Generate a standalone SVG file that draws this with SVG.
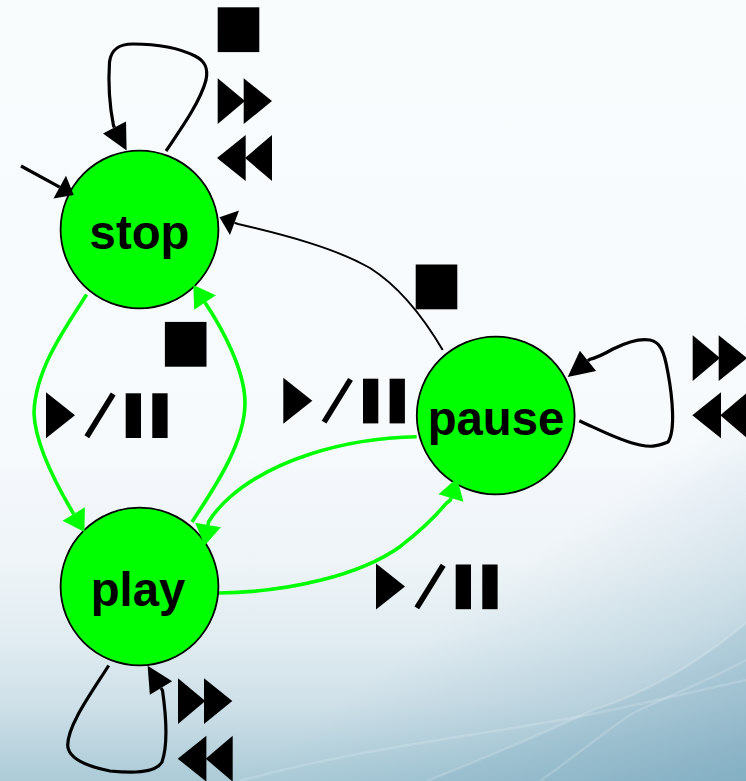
<svg xmlns="http://www.w3.org/2000/svg" width="746" height="781" viewBox="0 0 746 781">
<style>
.state{fill:#00ff00;stroke:#000;stroke-width:1.8}
.name{font-family:"Liberation Sans",Arial,sans-serif;font-weight:700;font-size:47.3px;fill:#000;text-anchor:middle}
.edge{fill:none;stroke:#000;stroke-width:3.2}
.thin{stroke-width:2}
.go{stroke:#00ff00;stroke-width:3.6}
</style>
<defs>
<linearGradient id="bg" x1="0" y1="0" x2="0" y2="1">
<stop offset="0" stop-color="#f8fcfd"/>
<stop offset="0.58" stop-color="#f6fafc"/>
<stop offset="0.62" stop-color="#f3f7fb"/>
<stop offset="0.72" stop-color="#eef4f7"/>
<stop offset="0.82" stop-color="#e0ecf1"/>
<stop offset="0.9" stop-color="#cfe0e8"/>
<stop offset="1" stop-color="#abcbd7"/>
</linearGradient>
<linearGradient id="bgRight" gradientUnits="userSpaceOnUse" x1="520" y1="566" x2="704" y2="812">
<stop offset="0" stop-color="#5f97b0" stop-opacity="0"/>
<stop offset="0.5" stop-color="#5f97b0" stop-opacity="0.2"/>
<stop offset="1" stop-color="#5f97b0" stop-opacity="0.52"/>
</linearGradient>
<marker id="headBig" markerUnits="userSpaceOnUse" markerWidth="30" markerHeight="30" refX="0" refY="13" orient="auto" overflow="visible"><polygon points="0,0 26,13 0,26" fill="#000"/></marker>
<marker id="headShort" markerUnits="userSpaceOnUse" markerWidth="30" markerHeight="30" refX="0" refY="13" orient="auto" overflow="visible"><polygon points="0,0 16,13 0,26" fill="#000"/></marker>
<marker id="headGreen" markerUnits="userSpaceOnUse" markerWidth="30" markerHeight="30" refX="0" refY="13" orient="auto" overflow="visible"><polygon points="0,0 21,13 0,26" fill="#00ff00"/></marker>
<g id="playPause">
<polygon points="0,0 0,46 29,23"/>
<line x1="67.2" y1="1.7" x2="40.8" y2="44.4" stroke="#000" stroke-width="5.6"/>
<rect x="79.7" y="1" width="15.3" height="44.7"/>
<rect x="106.3" y="1" width="15.3" height="44.7"/>
</g>
<g id="ffwd"><polygon points="0,0 27.3,22.8 0,45.7"/><polygon points="26,0 54.3,22.8 26,45.7"/></g>
<g id="rewind"><polygon points="0,23 28.7,0 28.7,46"/><polygon points="28,23 55,0 55,46"/></g>
<rect id="stopIcon" width="41.6" height="44.8"/>
</defs>
<g id="background">
<rect width="746" height="781" fill="url(#bg)"/>
<rect width="746" height="781" fill="url(#bgRight)"/>
<path d="M746 623 C690 670 640 695 593 710 C540 735 480 760 427 781 L746 781Z" fill="#7fabc0" fill-opacity="0.18"/>
<g fill="none" stroke="#fff" stroke-opacity="0.16" stroke-width="2.5">
<path d="M240 781 C350 750 480 735 577 717 C640 705 700 690 746 680"/>
<path d="M427 781 C480 760 540 735 593 710 C640 695 690 670 746 623"/>
<path d="M540 781 C570 760 600 735 633 713 C670 695 710 680 746 660"/>
</g>
</g>
<g id="node-stop"><circle class="state" cx="139.5" cy="229.5" r="78.9"/><text class="name" x="139.5" y="248.5">stop</text></g>
<g id="node-play"><circle class="state" cx="139.5" cy="586.5" r="78.9"/><text class="name" x="138" y="605.5">play</text></g>
<g id="node-pause"><circle class="state" cx="495.7" cy="415.5" r="78.9"/><text class="name" x="496" y="434.5">pause</text></g>
<g id="connectors">
<path class="edge" marker-end="url(#headBig)" d="M166 151 C178 133 200 103 206 80 C209 66 203 60 195 56 C175 46 150 44 133 44 C118 44 111 50 109.5 62 C108 85 109 103 113.5 125.6 L114.5 127.5"/>
<path class="edge" marker-end="url(#headShort)" d="M21 166 L59.7 187.2"/>
<path class="edge go" marker-end="url(#headGreen)" d="M86.7 294.5 C65 328 35 370 34 413 C35 445 60 491 73.7 514"/>
<path class="edge go" marker-end="url(#headGreen)" d="M192 522 C210 494 245 445 245 403 C245 370 222 328 205 302.5"/>
<path class="edge thin" marker-end="url(#headShort)" d="M442.7 350 C425 320 400 287 370 268 C335 248 285 235 238 224 L234.5 222.7"/>
<path class="edge go" marker-end="url(#headGreen)" d="M416.7 436.7 C340 438 270 462 230 497 C220 506 212 516 208.5 522 L208 525"/>
<path class="edge go" marker-end="url(#headGreen)" d="M219 593 C290 592 360 575 400 546.7 C415 535 432 520 443.3 506.7 C446 503 449 501 450.4 500 L451 498"/>
<path class="edge" marker-end="url(#headBig)" d="M108.7 665.5 C90 695 68 725 67.7 745 C68 760 90 767 110 771 C130 773 155 774 162 762 C168 745 166 715 162.5 690.5 L161 688"/>
<path class="edge" marker-end="url(#headBig)" d="M579.3 420.7 C600 430 620 441 640 445 C650 447 655 447 668 442 C676 430 672 395 668 373 C664 350 660 342 650 340 C638 338 625 343 613 349 C606 353 596 358 590 359.2 L588 360.8"/>
</g>
<g id="labels">
<use href="#stopIcon" x="217.7" y="7.3"/>
<use href="#ffwd" x="217.7" y="78.3"/>
<use href="#rewind" x="217" y="135"/>
<use href="#stopIcon" x="164.9" y="321.9"/>
<use href="#stopIcon" x="415.7" y="264.5"/>
<use href="#playPause" x="46" y="392.3"/>
<use href="#playPause" x="283.3" y="377.7"/>
<use href="#playPause" x="376" y="563.5"/>
<use href="#ffwd" x="692.7" y="335.3"/>
<use href="#rewind" x="692.3" y="392.3"/>
<use href="#ffwd" x="178" y="678.3"/>
<use href="#rewind" x="177.7" y="735.7"/>
</g>
</svg>
